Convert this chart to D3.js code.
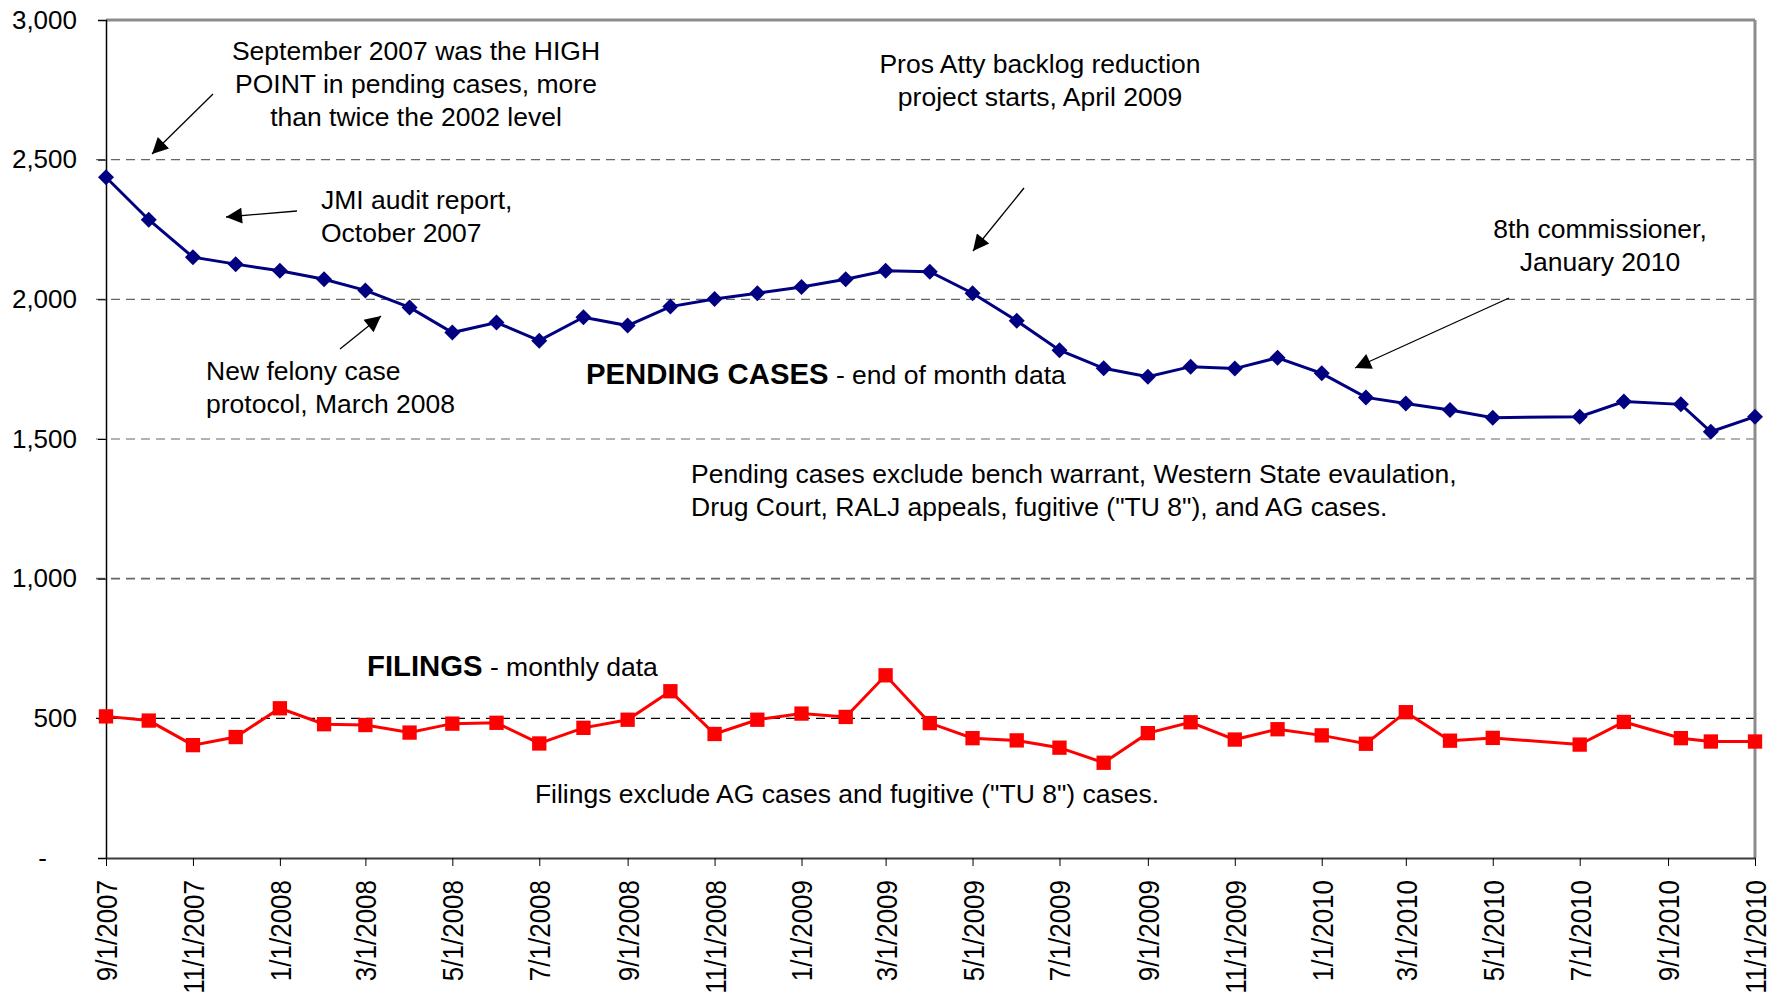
<!DOCTYPE html>
<html>
<head>
<meta charset="utf-8">
<script src="https://cdn.jsdelivr.net/npm/d3@7"></script>
<style>
  body { margin: 0; background: #fff; }
  svg text { font-family: "Liberation Sans", Arial, sans-serif; fill: #000; }
</style>
</head>
<body>
<div id="chart"></div>
<script>
// Data
var dates = ["9/1/2007", "10/1/2007", "11/1/2007", "12/1/2007", "1/1/2008", "2/1/2008", "3/1/2008",
  "4/1/2008", "5/1/2008", "6/1/2008", "7/1/2008", "8/1/2008", "9/1/2008", "10/1/2008", "11/1/2008",
  "12/1/2008", "1/1/2009", "2/1/2009", "3/1/2009", "4/1/2009", "5/1/2009", "6/1/2009", "7/1/2009",
  "8/1/2009", "9/1/2009", "10/1/2009", "11/1/2009", "12/1/2009", "1/1/2010", "2/1/2010", "3/1/2010",
  "4/1/2010", "5/1/2010", "7/1/2010", "8/1/2010", "9/10/2010", "10/1/2010", "11/1/2010"];

var pending = [2437, 2285, 2151, 2126, 2102, 2072, 2032, 1971, 1881, 1917, 1852, 1936, 1906, 1974,
  2001, 2022, 2044, 2072, 2102, 2099, 2022, 1923, 1818, 1753, 1723, 1759, 1752, 1791, 1735, 1649,
  1627, 1604, 1576, 1580, 1634, 1624, 1526, 1580];

var filings = [507, 492, 404, 433, 536, 479, 476, 449, 481, 484, 410, 466, 495, 597, 444, 495, 517,
  505, 654, 483, 429, 421, 395, 341, 447, 486, 424, 461, 439, 409, 522, 420, 430, 406, 487, 429,
  417, 417];

var xTicks = ["9/1/2007", "11/1/2007", "1/1/2008", "3/1/2008", "5/1/2008", "7/1/2008", "9/1/2008",
  "11/1/2008", "1/1/2009", "3/1/2009", "5/1/2009", "7/1/2009", "9/1/2009", "11/1/2009", "1/1/2010",
  "3/1/2010", "5/1/2010", "7/1/2010", "9/1/2010", "11/1/2010"];

var yTicks = [0, 500, 1000, 1500, 2000, 2500, 3000];

var svgWidth = 1781;
var svgHeight = 995;
var margin = { top: 20, right: 26, bottom: 137, left: 106 };
var width = svgWidth - margin.left - margin.right;
var height = svgHeight - margin.top - margin.bottom;

var parseDate = d3.timeParse("%m/%d/%Y");
var fmtDate = d3.timeFormat("%-m/%-d/%Y");

var svg = d3.select("#chart")
    .append("svg")
    .attr("width", svgWidth)
    .attr("height", svgHeight);

var g = svg.append("g")
    .attr("transform", "translate(" + margin.left + "," + margin.top + ")");

var x = d3.scaleTime()
    .domain([parseDate(xTicks[0]), parseDate(xTicks[xTicks.length - 1])])
    .range([0, width]);
var y = d3.scaleLinear().domain([0, 3000]).range([height, 0]);

// Grid lines (dashed)
g.append("g")
    .selectAll("line")
    .data(yTicks.filter(function (d) { return d > 0 && d < 3000; }))
    .enter().append("line")
    .attr("x1", -10)
    .attr("x2", width)
    .attr("y1", function (d) { return y(d); })
    .attr("y2", function (d) { return y(d); })
    .attr("stroke", function (d) { return d === 500 ? "#000" : "#666"; })
    .attr("stroke-width", function (d) { return d === 1000 ? 1.6 : 1.2; })
    .attr("stroke-dasharray", "9,6");

// Top and right border of the plot area
g.append("line")
    .attr("x1", 0).attr("x2", width).attr("y1", 0).attr("y2", 0)
    .attr("stroke", "#8c8c8c").attr("stroke-width", 3);
g.append("line")
    .attr("x1", width).attr("x2", width).attr("y1", 0).attr("y2", height)
    .attr("stroke", "#8c8c8c").attr("stroke-width", 3);

// Y axis
var yAxis = g.append("g")
    .call(d3.axisLeft(y)
        .tickValues(yTicks)
        .tickSize(8)
        .tickPadding(21)
        .tickFormat(function (d) { return d === 0 ? "-" : d3.format(",")(d); }));
yAxis.select(".domain").attr("stroke", "#000").attr("stroke-width", 1.5);
yAxis.selectAll(".tick line").attr("stroke", "#000");
yAxis.selectAll("text")
    .style("font-size", "26px")
    .attr("dx", function (d) { return d === 0 ? -30 : 0; });

// X axis
var xAxis = g.append("g")
    .attr("transform", "translate(0," + height + ")")
    .call(d3.axisBottom(x)
        .tickValues(xTicks.map(parseDate))
        .tickSize(8)
        .tickSizeOuter(0)
        .tickFormat(fmtDate));
xAxis.select(".domain").attr("stroke", "#3c3c3c").attr("stroke-width", 2);
xAxis.selectAll(".tick line").attr("stroke", "#000");
xAxis.selectAll("text")
    .style("font-size", "26px")
    .attr("text-anchor", "end")
    .attr("transform", "rotate(-90) scale(1,1.12)")
    .attr("x", -22)
    .attr("y", 0)
    .attr("dy", "0.36em");

// Series
var pendingData = dates.map(function (d, i) { return { date: parseDate(d), value: pending[i] }; });
var filingsData = dates.map(function (d, i) { return { date: parseDate(d), value: filings[i] }; });

var line = d3.line()
    .x(function (d) { return x(d.date); })
    .y(function (d) { return y(d.value); });

g.append("path")
    .datum(pendingData)
    .attr("fill", "none")
    .attr("stroke", "#000080")
    .attr("stroke-width", 3)
    .attr("d", line);

g.append("path")
    .datum(filingsData)
    .attr("fill", "none")
    .attr("stroke", "#ff0000")
    .attr("stroke-width", 3)
    .attr("d", line);

g.selectAll(".diamond")
    .data(pendingData)
    .enter().append("path")
    .attr("class", "diamond")
    .attr("d", d3.symbol().type(d3.symbolSquare).size(128))
    .attr("transform", function (d) {
        return "translate(" + x(d.date) + "," + y(d.value) + ") rotate(45)";
    })
    .attr("fill", "#000080");

g.selectAll(".square")
    .data(filingsData)
    .enter().append("path")
    .attr("class", "square")
    .attr("d", d3.symbol().type(d3.symbolSquare).size(205))
    .attr("transform", function (d) {
        return "translate(" + x(d.date) + "," + y(d.value) + ")";
    })
    .attr("fill", "#ff0000");

// Arrow head marker
svg.append("defs").append("marker")
    .attr("id", "arrow")
    .attr("viewBox", "0 0 10 10")
    .attr("refX", 10).attr("refY", 5)
    .attr("markerWidth", 20).attr("markerHeight", 16)
    .attr("markerUnits", "userSpaceOnUse")
    .attr("orient", "auto")
    .append("path")
    .attr("d", "M0,0 L10,5 L0,10 Z")
    .attr("fill", "#000");

// Annotations (page coordinates)
var notes = [
    { lines: ["September 2007 was the HIGH", "POINT in pending cases, more", "than twice the 2002 level"], x: 416, y: 60, anchor: "middle" },
    { lines: ["JMI audit report,", "October 2007"], x: 321, y: 209, anchor: "start" },
    { lines: ["New felony case", "protocol, March 2008"], x: 206, y: 380, anchor: "start" },
    { lines: ["Pros Atty backlog reduction", "project starts, April 2009"], x: 1040, y: 73, anchor: "middle" },
    { lines: ["8th commissioner,", "January 2010"], x: 1600, y: 238, anchor: "middle" },
    { lines: ["Pending cases exclude bench warrant, Western State evaulation,", "Drug Court, RALJ appeals, fugitive (\"TU 8\"), and AG cases."], x: 691, y: 483, anchor: "start" },
    { lines: ["Filings exclude AG cases and fugitive (\"TU 8\") cases."], x: 847, y: 803, anchor: "middle" }
];

notes.forEach(function (n) {
    var t = svg.append("text")
        .attr("x", n.x)
        .attr("y", n.y)
        .attr("text-anchor", n.anchor)
        .style("font-size", "26.5px");
    n.lines.forEach(function (l, i) {
        t.append("tspan")
            .attr("x", n.x)
            .attr("dy", i === 0 ? 0 : 33)
            .text(l);
    });
});

// Series labels
var labels = [
    { bold: "PENDING CASES", rest: " - end of month data", x: 586, y: 384 },
    { bold: "FILINGS", rest: " - monthly data", x: 367, y: 676 }
];
labels.forEach(function (l) {
    var t = svg.append("text").attr("x", l.x).attr("y", l.y);
    t.append("tspan").style("font-size", "29.3px").style("font-weight", "bold").text(l.bold);
    t.append("tspan").style("font-size", "26.5px").text(l.rest);
});

// Arrows
var arrows = [
    [213, 94, 152, 154],
    [297, 211, 226, 217],
    [340, 349, 381, 316],
    [1024, 188, 973, 251],
    [1509, 298, 1355, 368]
];
svg.selectAll(".arrow")
    .data(arrows)
    .enter().append("line")
    .attr("class", "arrow")
    .attr("x1", function (d) { return d[0]; })
    .attr("y1", function (d) { return d[1]; })
    .attr("x2", function (d) { return d[2]; })
    .attr("y2", function (d) { return d[3]; })
    .attr("stroke", "#000")
    .attr("stroke-width", 1.3)
    .attr("marker-end", "url(#arrow)");
</script>
</body>
</html>
